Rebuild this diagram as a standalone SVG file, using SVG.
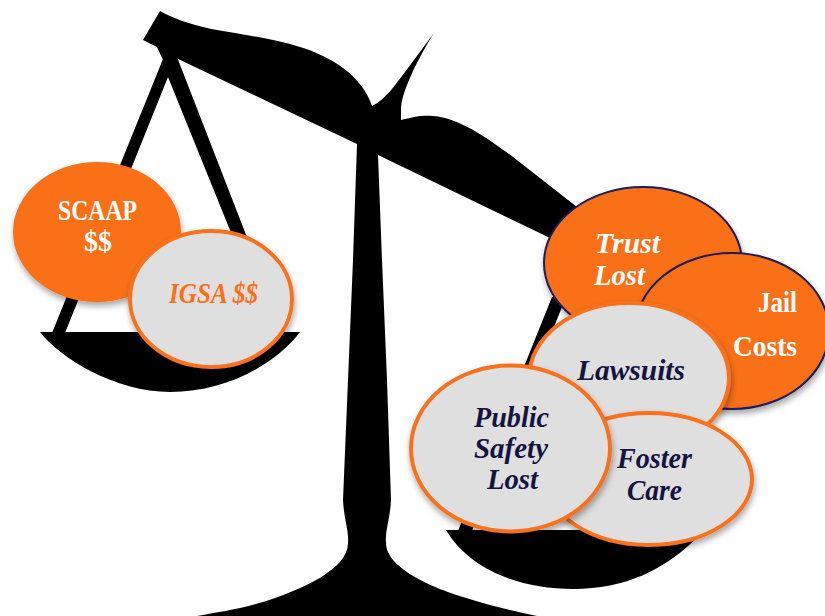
<svg xmlns="http://www.w3.org/2000/svg" width="825" height="616" viewBox="0 0 825 616">
<defs>
<filter id="sh" x="-15%" y="-15%" width="130%" height="135%"><feDropShadow dx="1" dy="4" stdDeviation="3" flood-color="#000" flood-opacity="0.35"/></filter>
</defs>
<style>
.t{font-family:"Liberation Serif","Times New Roman",serif;font-weight:700;font-size:29px;text-anchor:start}
.i{font-style:italic}
.w{fill:#fff}.n{fill:#14143f}.o{fill:#fa6f17}
.org{fill:#fa6f17;stroke:#1a1a5e;stroke-width:2;filter:url(#sh)}
.gry{fill:#dfdfdf;stroke:#f9711a;stroke-width:4;filter:url(#sh)}
</style>
<rect width="825" height="616" fill="#fff"/>
<g id="scale" fill="#000">
<path d="M160 11C175 20 200 27 217 30C245 35 275 39 300 47C330 56 362 75 372 106C385 100 395 85 405 72L434 33C420 55 402 90 401 108L401 120C415 116 425 115 433 116C460 118 490 140 513 157L577 207L600 225L575 250L548 237L378 155L382 260L387 380L391 500C390 520 385 530 386 543C386 570 440 590 463 597C490 606 515 611 537 616L197 616C220 612 240 609 263 602C300 590 348 570 348 543C349 530 344 520 343 500L348 380L353 260L357 144L176 58L163 60L157 47L143 40Z"/>
<path d="M163 59L177 57L250 245L236 245L168 77L65 333L52 333Z"/>
<path d="M40 332H300C275 365 225 392 170 392C115 392 60 358 40 332Z"/>
<path d="M446 530H700L700 535C665 570 625 589 573 589C520 589 470 570 446 530Z"/>
<path d="M552 297L566 297L472 531L458 531Z"/>
</g>
<g id="connectors"></g>
<g id="node-scaap"><ellipse class="org" style="stroke:none" cx="97" cy="232" rx="84" ry="70"/>
<text class="t w" x="58" y="220" textLength="79" lengthAdjust="spacingAndGlyphs">SCAAP</text>
<text class="t w" x="84" y="251" textLength="28" lengthAdjust="spacingAndGlyphs">$$</text></g>
<g id="node-igsa"><ellipse class="gry" cx="211" cy="299" rx="81" ry="68"/>
<text class="t i o" x="169" y="303" textLength="89" lengthAdjust="spacingAndGlyphs">IGSA $$</text></g>
<g id="node-trust"><ellipse class="org" cx="643" cy="263" rx="99" ry="76"/>
<text class="t i w" x="595" y="253" textLength="65" lengthAdjust="spacingAndGlyphs">Trust</text>
<text class="t i w" x="594" y="285" textLength="51" lengthAdjust="spacingAndGlyphs">Lost</text></g>
<g id="node-jail"><ellipse class="org" cx="732" cy="331" rx="97" ry="78"/>
<text class="t w" x="758" y="312" textLength="39" lengthAdjust="spacingAndGlyphs">Jail</text>
<text class="t w" x="733" y="356" textLength="64" lengthAdjust="spacingAndGlyphs">Costs</text></g>
<g id="node-lawsuits"><ellipse class="gry" cx="629" cy="378" rx="100" ry="75"/>
<text class="t i n" x="577" y="380" textLength="108" lengthAdjust="spacingAndGlyphs">Lawsuits</text></g>
<g id="node-foster"><ellipse class="gry" cx="649" cy="479" rx="103" ry="66"/>
<text class="t i n" x="617" y="468" textLength="75" lengthAdjust="spacingAndGlyphs">Foster</text>
<text class="t i n" x="627" y="500" textLength="55" lengthAdjust="spacingAndGlyphs">Care</text></g>
<g id="node-public"><ellipse class="gry" cx="510.500" cy="448.500" rx="99.500" ry="83"/>
<text class="t i n" x="474" y="427" textLength="75" lengthAdjust="spacingAndGlyphs">Public</text>
<text class="t i n" x="474" y="458" textLength="74" lengthAdjust="spacingAndGlyphs">Safety</text>
<text class="t i n" x="487" y="489" textLength="51" lengthAdjust="spacingAndGlyphs">Lost</text></g>
</svg>
